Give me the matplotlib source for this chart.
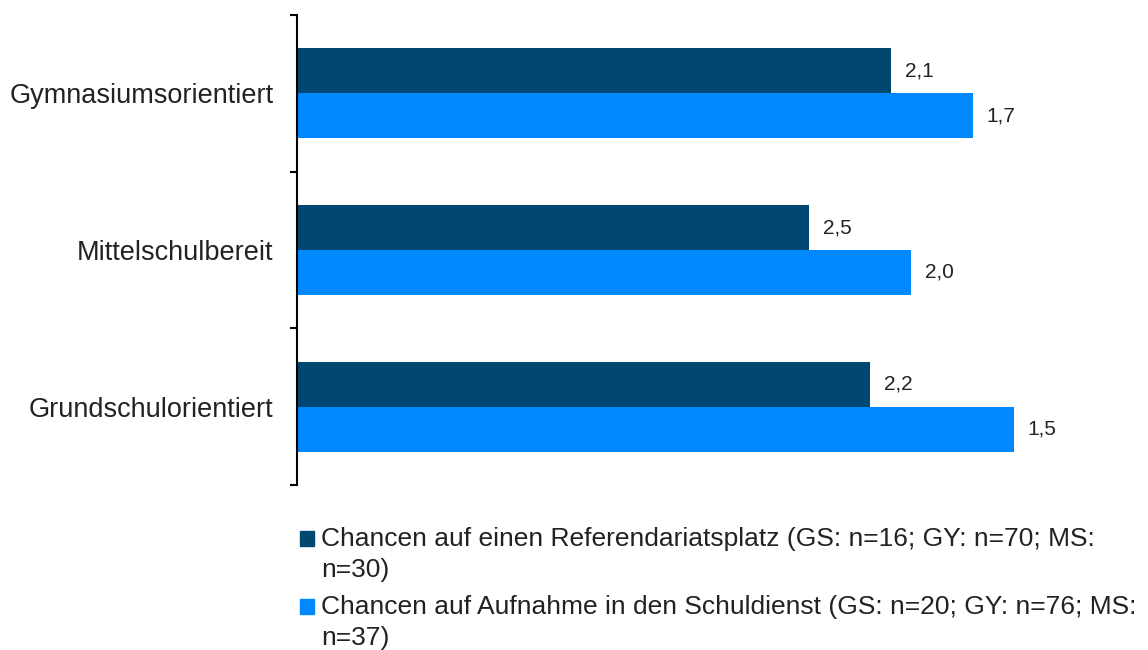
import matplotlib.pyplot as plt
from matplotlib.patches import Rectangle

categories = ['Gymnasiumsorientiert', 'Mittelschulbereit', 'Grundschulorientiert']
referendariat = [2.1, 2.5, 2.2]
schuldienst = [1.7, 2.0, 1.5]
series_labels = [
    'Chancen auf einen Referendariatsplatz (GS: n=16; GY: n=70; MS:\nn=30)',
    'Chancen auf Aufnahme in den Schuldienst (GS: n=20; GY: n=76; MS:\nn=37)',
]
colors = ['#004872', '#0088FF']

plt.rcParams['font.family'] = ['Liberation Sans', 'DejaVu Sans']

W, H = 1148, 650
fig = plt.figure(figsize=(W / 100, H / 100), dpi=100)
ax = fig.add_axes([297 / W, 1 - 485 / H, (1116 - 297) / W, 470 / H])

# grades: 5 is the worst, bars grow towards 1
base = 5.0
h = 0.287
ypos = list(range(len(categories)))

for series, offset, col in [(referendariat, -h / 2, colors[0]), (schuldienst, h / 2, colors[1])]:
    ys = [y + offset for y in ypos]
    ax.barh(ys, [v - base for v in series], left=base, height=h, color=col)
    for y, v in zip(ys, series):
        ax.annotate(f'{v:.1f}'.replace('.', ','), (v, y), xytext=(10, 0),
                    textcoords='offset points', ha='left', va='center',
                    fontsize=15, color='#222222')

ax.set_xlim(base, 1)
ax.set_ylim(len(categories) - 0.5, -0.5)

ax.set_yticks([y - 0.5 for y in range(len(categories) + 1)])
ax.set_yticklabels([])
ax.set_yticks(ypos, minor=True)
ax.set_yticklabels(categories, minor=True, fontsize=19.5, color='#222222')
ax.tick_params(axis='y', which='major', length=5, width=1.5, direction='out')
ax.tick_params(axis='y', which='minor', length=0, pad=17)
ax.xaxis.set_visible(False)
for s in ['top', 'right', 'bottom']:
    ax.spines[s].set_visible(False)
ax.spines['left'].set_linewidth(1.5)

# legend below the plot
for i, (lab, col) in enumerate(zip(series_labels, colors)):
    top = 531 + i * 68
    fig.add_artist(Rectangle((300 / W, 1 - (top + 15) / H), 14 / W, 15 / H,
                             transform=fig.transFigure, color=col))
    fig.text(321 / W, 1 - (top - 4) / H, lab, ha='left', va='top',
             fontsize=19, color='#222222', linespacing=1.38)

fig.savefig('out.png', dpi=100)
